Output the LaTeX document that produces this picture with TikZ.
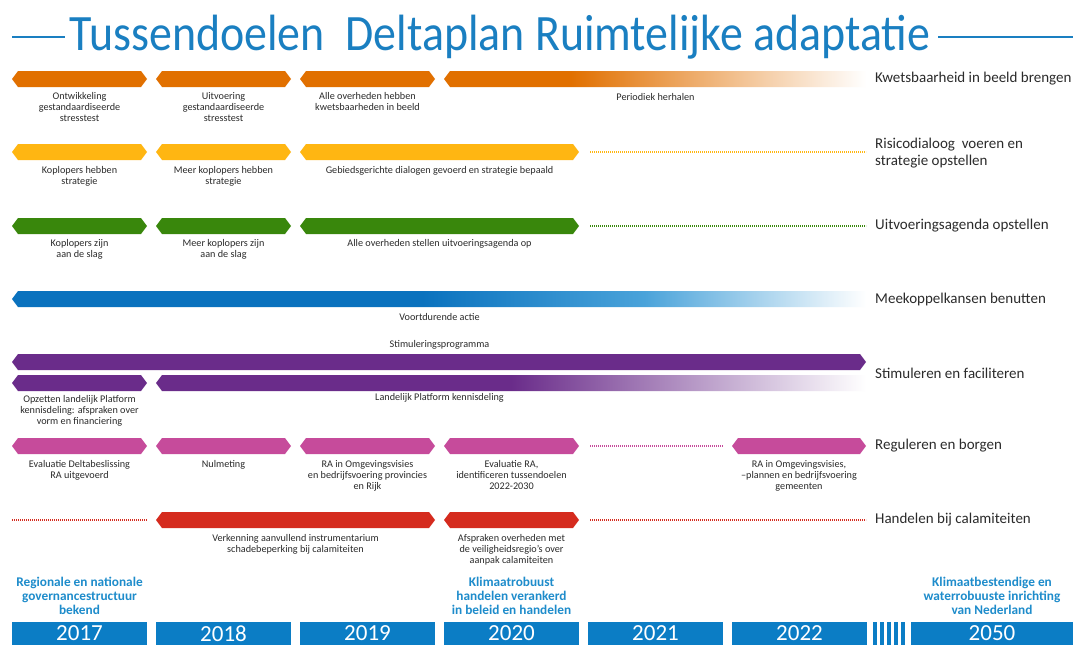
\documentclass[tikz,border=0pt]{standalone}
\usepackage{fontspec}
\setmainfont{Carlito}
\newfontfamily\titlefont[FakeStretch=0.9]{Carlito}
\definecolor{cOrange}{HTML}{E17000}
\definecolor{cYellow}{HTML}{FFB612}
\definecolor{cGreen}{HTML}{39870C}
\definecolor{cBlue}{HTML}{0A72BE}
\definecolor{cBlueMid}{HTML}{4AA3DA}
\definecolor{cPurple}{HTML}{6A2C8A}
\definecolor{cMagenta}{HTML}{C64B9B}
\definecolor{cRed}{HTML}{D52B1E}
\definecolor{cMile}{HTML}{1E8CCB}
\definecolor{cTitle}{HTML}{1A7FC1}
\definecolor{cYear}{HTML}{0B7DC5}
\definecolor{cText}{HTML}{2B2B2B}
\pgfdeclarehorizontalshading{orangefade}{100bp}{color(0bp)=(cOrange); color(40bp)=(cOrange); color(75bp)=(white); color(100bp)=(white)}
\pgfdeclarehorizontalshading{bluefade}{100bp}{color(0bp)=(cBlue); color(49bp)=(cBlue); color(62bp)=(cBlueMid); color(75bp)=(white); color(100bp)=(white)}
\pgfdeclarehorizontalshading{purplefade}{100bp}{color(0bp)=(cPurple); color(50bp)=(cPurple); color(75bp)=(white); color(100bp)=(white)}
\tikzset{
  lbl/.style={font=\fontsize{10.2}{11}\selectfont, align=center, anchor=north, text=cText, inner sep=0pt},
  rowlbl/.style={font=\fontsize{15}{16.5}\selectfont, anchor=west, align=left, text=cText, inner sep=0pt},
  mile/.style={font=\bfseries\fontsize{13.3}{14}\selectfont, align=center, anchor=north, text=cMile, inner sep=0pt},
  yeartxt/.style={font=\fontsize{23}{23}\selectfont, text=white, inner sep=0pt},
  dotline/.style={line width=1.1pt, dash pattern=on 0.6pt off 1.4pt},
}
\newcommand{\hexbar}[4]{\fill[#4] (#1,#3) -- ({#1+6},{#3-8}) -- ({#2-6},{#3-8}) -- (#2,#3) -- ({#2-6},{#3+8}) -- ({#1+6},{#3+8}) -- cycle;}
\newcommand{\fadebar}[4]{%
  \shade[shading=#4] (#1,#3) -- ({#1+6},{#3-8}) -- (#2,{#3-8}) -- (#2,{#3+8}) -- ({#1+6},{#3+8}) -- cycle;}
\begin{document}
\begin{tikzpicture}[x=1pt,y=-1pt]
\useasboundingbox (0,0) rectangle (1073,645);
\fill[white] (0,0) rectangle (1073,645);
% title
\node[font=\titlefont\fontsize{51}{51}\selectfont, text=cTitle, anchor=base, inner sep=0pt] (title) at (500,50) {Tussendoelen\ \ Deltaplan Ruimtelijke adaptatie};
\coordinate (tl1) at (12,37);
\coordinate (tr2) at (1073,37);
\draw[cTitle, line width=1.6pt] (tl1) -- ([xshift=-5pt]title.west |- tl1);
\draw[cTitle, line width=1.6pt] ([xshift=8pt]title.east |- tr2) -- (tr2);

% row 1 orange
\hexbar{12}{147}{79}{cOrange}
\hexbar{156}{291}{79}{cOrange}
\hexbar{300}{435}{79}{cOrange}
\fadebar{444}{866}{79}{orangefade}
\node[lbl] (o1) at (79.5,92) {Ontwikkeling\\gestandaardiseerde\\stresstest};
\node[lbl] (o2) at (223.5,92) {Uitvoering\\gestandaardiseerde\\stresstest};
\node[lbl] (o3) at (367.5,92) {Alle overheden hebben\\kwetsbaarheden in beeld};
\node[lbl] (o4) at (655.5,93) {Periodiek herhalen};
\node[rowlbl] (r1) at (875,79) {Kwetsbaarheid in beeld brengen};

% row 2 yellow
\hexbar{12}{147}{152}{cYellow}
\hexbar{156}{291}{152}{cYellow}
\hexbar{300}{579}{152}{cYellow}
\draw[cYellow, dotline] (590,152) -- (866,152);
\node[lbl] (y1) at (79.5,166) {Koplopers hebben\\strategie};
\node[lbl] (y2) at (223.5,166) {Meer koplopers hebben\\strategie};
\node[lbl] (y3) at (439.5,166) {Gebiedsgerichte dialogen gevoerd en strategie bepaald};
\node[rowlbl] (r2) at (875,153) {Risicodialoog\ \ voeren en\\strategie opstellen};

% row 3 green
\hexbar{12}{147}{226}{cGreen}
\hexbar{156}{291}{226}{cGreen}
\hexbar{300}{579}{226}{cGreen}
\draw[cGreen, dotline] (590,226) -- (866,226);
\node[lbl] (g1) at (79.5,239) {Koplopers zijn\\aan de slag};
\node[lbl] (g2) at (223.5,239) {Meer koplopers zijn\\aan de slag};
\node[lbl] (g3) at (439.5,239) {Alle overheden stellen uitvoeringsagenda op};
\node[rowlbl] (r3) at (875,226) {Uitvoeringsagenda opstellen};

% row 4 blue
\fadebar{12}{866}{299}{bluefade}
\node[lbl] (b1) at (439.5,313) {Voortdurende actie};
\node[rowlbl] (r4) at (875,299) {Meekoppelkansen benutten};

% row 5 purple
\node[lbl] (p0) at (439.5,340) {Stimuleringsprogramma};
\hexbar{12}{866}{362}{cPurple}
\hexbar{12}{147}{383}{cPurple}
\fadebar{156}{866}{383}{purplefade}
\node[lbl] (p1) at (79.5,395) {Opzetten landelijk Platform\\kennisdeling: afspraken over\\vorm en financiering};
\node[lbl] (p2) at (439.5,393) {Landelijk Platform kennisdeling};
\node[rowlbl] (r5) at (875,373) {Stimuleren en faciliteren};

% row 6 magenta
\hexbar{12}{147}{446}{cMagenta}
\hexbar{156}{291}{446}{cMagenta}
\hexbar{300}{435}{446}{cMagenta}
\hexbar{444}{579}{446}{cMagenta}
\draw[cMagenta, dotline] (590,446) -- (723,446);
\hexbar{732}{866}{446}{cMagenta}
\node[lbl] (m1) at (79.5,460) {Evaluatie Deltabeslissing\\RA uitgevoerd};
\node[lbl] (m2) at (223.5,460) {Nulmeting};
\node[lbl] (m3) at (367.5,460) {RA in Omgevingsvisies\\en bedrijfsvoering provincies\\en Rijk};
\node[lbl] (m4) at (511.5,460) {Evaluatie RA,\\identificeren tussendoelen\\2022-2030};
\node[lbl] (m5) at (799,460) {RA in Omgevingsvisies,\\--plannen en bedrijfsvoering\\gemeenten};
\node[rowlbl] (r6) at (875,446) {Reguleren en borgen};

% row 7 red
\draw[cRed, dotline] (12,520) -- (147,520);
\hexbar{156}{435}{520}{cRed}
\hexbar{444}{579}{520}{cRed}
\draw[cRed, dotline] (590,520) -- (866,520);
\node[lbl] (c1) at (295.5,534) {Verkenning aanvullend instrumentarium\\schadebeperking bij calamiteiten};
\node[lbl] (c2) at (511.5,534) {Afspraken overheden met\\de veiligheidsregio's over\\aanpak calamiteiten};
\node[rowlbl] (r7) at (875,520) {Handelen bij calamiteiten};

% milestones
\node[mile] (ms1) at (79.5,577) {Regionale en nationale\\governancestructuur\\bekend};
\node[mile] (ms2) at (511.5,577) {Klimaatrobuust\\handelen verankerd\\in beleid en handelen};
\node[mile] (ms3) at (992,577) {Klimaatbestendige en\\waterrobuuste inrichting\\van Nederland};

% years
\foreach \x/\yr in {12/2017,156/2018,300/2019,444/2020,588/2021,732/2022}{
  \fill[cYear] (\x,622) rectangle ({\x+135},645);
  \node[yeartxt] (y\yr) at ({\x+67.5},633.5) {\yr};
}
\foreach \x in {873,880,887,894,901}{
  \fill[cYear] (\x,622) rectangle ({\x+3.5},645);
}
\fill[cYear] (911,622) rectangle (1073,645);
\node[yeartxt] (y2050) at (992,633.5) {2050};
\end{tikzpicture}
\end{document}
